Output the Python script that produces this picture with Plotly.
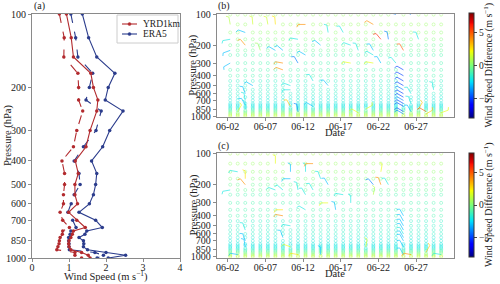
import numpy as np
import pandas as pd
import plotly.graph_objects as go
from plotly.colors import sample_colorscale

# ---------------- data: panel (a) mean wind speed profiles ----------------
levels = [100, 125, 150, 175, 200, 225, 250, 300, 350, 400, 450, 500, 550, 600,
          650, 700, 750, 775, 800, 825, 850, 875, 900, 925, 950, 975, 1000]
yrd_solid = [0.93, 1.06, 1.12, 1.59, 1.66, 1.78, 1.75, 1.57, 1.46, 1.17, 1.25, 1.16, 1.16, 1.23,
             0.99, 1.21, 1.44, 1.12, 1.09, 1.05, 1.00, 0.99, 1.00, 1.05, 1.34, 1.52, 1.57]
yrd_dash = [0.74, 0.87, 0.86, 1.24, 1.26, 1.26, 1.37, 1.21, 1.12, 0.81, 0.88, 0.88, 0.85, 0.85,
            0.76, 0.83, 1.01, 0.83, 0.82, 0.76, 0.74, 0.73, 0.70, 0.67, 1.16, 1.16, 1.34]
era_solid = [1.36, 1.53, 1.75, 2.24, 2.06, 1.98, 2.46, 2.10, 1.91, 1.61, 1.75, 1.72, 1.66, 1.55,
             1.27, 1.72, 1.90, 1.48, 1.43, 1.27, 1.39, 1.40, 1.39, 1.50, 2.00, 2.53, 2.06]
era_dash = [1.05, 1.18, 1.24, 1.64, 1.55, 1.46, 1.87, 1.73, 1.39, 1.14, 1.27, 1.30, 1.14, 1.06,
            0.97, 1.10, 1.19, 1.05, 1.03, 0.99, 0.99, 1.00, 1.00, 1.01, 1.70, 1.93, 1.76]
p_ticks = [100, 200, 300, 400, 500, 600, 700, 850, 1000]
ws_ticks = [0, 1, 2, 3, 4]
legend_names = ["YRD1km", "ERA5"]

# ---------------- data: panels (b)/(c) ----------------
days = list(range(2, 31))           # daily columns, 08 BJT
date_ticks = ["2024-06-02", "2024-06-07", "2024-06-12", "2024-06-17", "2024-06-22", "2024-06-27"]
date_labels = ["06-02", "06-07", "06-12", "06-17", "06-22", "06-27"]
cbar_ticks = [-5, 0, 5]
# representative calm-dot difference per level
dot_b = [0.5, 0.5, 0.3, 0, -0.5, -0.5, -1, -1, -1, -1, -1.5, -1.5, -1.5, -1.5,
         -1.8, -1.8, -2, -2, -2, -2, -1.5, -1, -0.5, 0, 0.5, 1, 1.5]
dot_c = [0.8, 0.5, 0.3, 0, -0.5, -0.5, -1, -1, -1, -1, -1.5, -1.5, -1.5, -1.5,
         -1.8, -1.8, -2, -2, -2, -2, -1.5, -1, -0.5, 0, 0.5, 1, 1.5]
# barbs: day, level, shaft angle (deg), speed difference
barb_b_day = [2, 2, 2, 2, 4, 4, 4, 4, 4, 4, 3, 5, 5, 6, 7, 8, 8, 9, 9, 9, 10, 10, 10, 11, 11, 12, 11,
              12, 13, 14, 13, 15, 15, 17, 18, 19, 18, 21, 22, 21, 23, 25, 24, 26, 27, 21, 22, 24,
              25, 25, 25, 25, 25, 25, 25, 25, 25, 25, 25, 25, 26, 26, 26, 27, 28, 28, 29, 20, 19, 30, 21]
barb_b_lev = [125, 175, 225, 300, 150, 200, 600, 700, 775, 850, 900, 500, 125, 225, 125, 125, 225, 225,
              300, 350, 500, 550, 800, 900, 300, 125, 175, 250, 450, 200, 800, 500, 150, 150, 200, 225,
              300, 125, 175, 225, 175, 225, 100, 100, 175, 250, 300, 300,
              350, 400, 450, 500, 550, 600, 650, 700, 750, 800, 900, 950, 600, 750, 900, 850, 900, 950,
              550, 850, 925, 925, 300]
barb_b_ang = [100, 190, 200, 210, 160, 130, 110, 100, 120, 90, 60, 150, 95, 110, 100, 95, 150, 140,
              170, 160, 160, 180, 120, 100, 120, 180, 170, 150, 120, 140, 150, 130, 100, 120, 160, 110,
              170, 150, 130, 120, 100, 120, 160, 150, 110, 150, 120, 130,
              150, 150, 150, 150, 150, 150, 150, 150, 150, 150, 150, 150, 120, 110, 120, 60, 150, 30,
              100, 30, 150, 20, 170]
barb_b_val = [1, -2, -3, -3, -3, 4, -3, -2, -3, -2, 2, -3, 1.5, 0.5, 1.5, 2.5, -3, -3, 4, 4, -2, -2, 3,
              -4, -4, 4, -2, -3, -2, -3, -3, -3, -2, -2, -2, -2, 2, 4, 6, -3, -4, 5, -4, -4, -2, -2,
              -3, -2, -5, -5, -5, -5, -4, -5, -5, -4, -5, -5, -5, -4, -2, -2, -3, 3, 5, 3, -2, 2, 2, 2, 2]
barb_c_day = [3, 4, 4, 2, 3, 4, 4, 4, 8, 8, 9, 9, 9, 10, 10, 10, 9, 10, 11, 12, 12, 11, 12, 13, 13,
              14, 14, 15, 15, 16, 22, 22, 21, 23, 17, 21, 25, 25, 25, 25, 25, 25, 25, 25, 25, 20, 26,
              28, 30, 18]
barb_c_lev = [150, 175, 200, 225, 950, 550, 700, 800, 125, 225, 225, 350, 400, 150, 175, 500, 650, 800,
              225, 150, 250, 950, 350, 125, 225, 950, 175, 200, 300, 350, 150, 200, 200, 200, 250, 250,
              400, 450, 500, 550, 600, 650, 700, 800, 950, 800, 950, 900, 950, 300]
barb_c_ang = [170, 90, 130, 190, 170, 110, 110, 100, 90, 160, 140, 180, 170, 90, 180, 170, 110, 160, 100,
              90, 120, 170, 150, 180, 120, 90, 110, 120, 180, 100, 80, 110, 130, 120, 170, 80,
              120, 120, 120, 120, 120, 120, 120, 120, 120, 80, 170, 60, 170, 90]
barb_c_val = [-2, 2.5, 4, -2, -3, -2, -3, -3, 2, -2, -2, 2.5, 4, -3, -3, -2, -3, 2, -2, -2, -2, 2.5, -2,
              4, -2, -3, -2, -3, 2, -3, 2, 4, -4, -2, -2, 1, -3, -3, -3, -3, -2, -3, -3, -3, -3, 2, 4,
              3, -2, -2]

# ---------------- styling ----------------
FONT = "Liberation Serif"
RED = "#B22A2E"
BLUE = "#2B3C8C"
AX = "#8a8a8a"
TXT = "#222222"
W, H = 500, 284
jet = [[0.0, "rgb(0,0,128)"], [0.11, "rgb(0,0,255)"], [0.125, "rgb(0,0,255)"],
       [0.34, "rgb(0,219,255)"], [0.35, "rgb(0,229,246)"], [0.5, "rgb(124,255,121)"],
       [0.64, "rgb(246,255,1)"], [0.65, "rgb(255,234,0)"], [0.89, "rgb(255,18,0)"],
       [0.91, "rgb(231,0,0)"], [1.0, "rgb(128,0,0)"]]
VMIN, VMAX = -8, 8


def jet_color(v):
    t = min(max((v - VMIN) / (VMAX - VMIN), 0), 1)
    return sample_colorscale(jet, [t])[0]


def px(x):
    return x / W


def py(y):
    return 1 - y / H


fig = go.Figure()

# ---- panel (a)
for vals, col, dash in [(yrd_dash, RED, "dash"), (era_dash, BLUE, "dash"),
                        (yrd_solid, RED, "solid"), (era_solid, BLUE, "solid")]:
    fig.add_trace(go.Scatter(x=vals, y=levels, mode="lines+markers", showlegend=False,
                             line=dict(color=col, width=1.1, dash=dash),
                             marker=dict(color=col, size=3.5), xaxis="x", yaxis="y"))

# ---- panels (b)/(c)
PX_DAY = 7.536
PX_DEC = 101.2


def col_time(d):
    return pd.Timestamp(2024, 6, 1, 8) + pd.Timedelta(days=d - 1)


def add_field(xa, ya, cax, dotvals, bday, blev, bang, bval):
    taken = set(zip(bday, blev))
    dx, dy, dv = [], [], []
    for d in days:
        for i, p in enumerate(levels):
            if (d, p) in taken:
                continue
            dx.append(col_time(d))
            dy.append(p)
            dv.append(dotvals[i])
    fig.add_trace(go.Scatter(x=dx, y=dy, mode="markers", showlegend=False, hoverinfo="skip",
                             marker=dict(symbol="circle-open", size=3, color=dv, coloraxis=cax,
                                         opacity=0.45, line=dict(width=0.9)),
                             xaxis=xa, yaxis=ya))
    L, T = 7.5, 3.0
    for d, p, ang, v in zip(bday, blev, bang, bval):
        t0 = col_time(d)
        a = np.deg2rad(ang)
        ex, ey = L * np.cos(a), L * np.sin(a)
        b = a + np.deg2rad(65)
        tx, ty = ex + T * np.cos(b), ey + T * np.sin(b)
        xs = [t0, t0 + pd.Timedelta(days=ex / PX_DAY), t0 + pd.Timedelta(days=tx / PX_DAY)]
        ys = [p, p * 10 ** (-ey / PX_DEC), p * 10 ** (-ty / PX_DEC)]
        fig.add_trace(go.Scatter(x=xs, y=ys, mode="lines", showlegend=False, hoverinfo="skip",
                                 line=dict(color=jet_color(v), width=0.9), opacity=0.7,
                                 xaxis=xa, yaxis=ya))


add_field("x2", "y2", "coloraxis", dot_b, barb_b_day, barb_b_lev, barb_b_ang, barb_b_val)
add_field("x3", "y3", "coloraxis2", dot_c, barb_c_day, barb_c_lev, barb_c_ang, barb_c_val)

tickfont = dict(family=FONT, size=10, color=TXT)
common = dict(showline=True, mirror=True, linecolor=AX, linewidth=1, ticks="outside",
              ticklen=3, tickcolor=AX, showgrid=False, zeroline=False, tickfont=tickfont,
              automargin=False)
xcommon = dict(common, ticklabelstandoff=-3)

date_range = ["2024-05-31 13:00", "2024-07-02 01:00"]
xd = [pd.Timestamp(t) for t in date_ticks]


def cbar(ytop, ybot):
    return dict(x=px(469), xanchor="left", xpad=0, ypad=0, y=py((ytop + ybot) / 2),
                yanchor="middle", len=(ybot - ytop) / H, thickness=5, outlinewidth=1,
                outlinecolor="#333", tickvals=cbar_ticks, ticks="outside", ticklen=3,
                tickfont=dict(family=FONT, size=9.5, color=TXT))


fig.update_layout(
    width=W, height=H, margin=dict(l=0, r=0, t=0, b=0),
    paper_bgcolor="white", plot_bgcolor="white",
    font=dict(family=FONT, size=10, color=TXT),
    xaxis=dict(domain=[px(32), px(180)], range=[0, 4], tickvals=ws_ticks, anchor="y", **xcommon),
    yaxis=dict(domain=[py(258), py(14)], type="log", range=[3, 2], tickvals=p_ticks,
               ticktext=[str(v) for v in p_ticks], anchor="x", **common),
    xaxis2=dict(domain=[px(216.7), px(454)], type="date", range=date_range, tickvals=xd,
                ticktext=date_labels, anchor="y2", **xcommon),
    yaxis2=dict(domain=[py(117), py(14.3)], type="log", range=[3.008, 1.997],
                tickvals=p_ticks, ticktext=[str(v) for v in p_ticks], anchor="x2", **common),
    xaxis3=dict(domain=[px(216.7), px(454)], type="date", range=date_range, tickvals=xd,
                ticktext=date_labels, anchor="y3", **xcommon),
    yaxis3=dict(domain=[py(257.7), py(153.3)], type="log", range=[3.008, 1.997],
                tickvals=p_ticks, ticktext=[str(v) for v in p_ticks], anchor="x3", **common),
    coloraxis=dict(colorscale=jet, cmin=VMIN, cmax=VMAX, colorbar=cbar(13, 118)),
    coloraxis2=dict(colorscale=jet, cmin=VMIN, cmax=VMAX, colorbar=cbar(153, 257)),
    showlegend=False,
)

# ---- text annotations (axis titles, panel labels)
def ann(text, x, y, angle=0, size=10.5, xanchor="center", yanchor="middle"):
    fig.add_annotation(text=text, x=px(x), y=py(y), xref="paper", yref="paper",
                       showarrow=False, textangle=angle, xanchor=xanchor, yanchor=yanchor,
                       font=dict(family=FONT, size=size, color=TXT))


ann("Wind Speed (m s<sup>−1</sup>)", 106, 275.5)
ann("Pressure (hPa)", 8, 136, angle=-90)
ann("Pressure (hPa)", 193, 65.7, angle=-90)
ann("Pressure (hPa)", 193, 205.5, angle=-90)
ann("Date", 335, 133)
ann("Date", 335, 273.5)
ann("Wind Speed Difference (m s<sup>−1</sup>)", 488, 65.5, angle=-90, size=10)
ann("Wind Speed Difference (m s<sup>−1</sup>)", 488, 205, angle=-90, size=10)
ann("(a)", 32, 6, size=10, xanchor="left")
ann("(b)", 216, 6, size=10, xanchor="left")
ann("(c)", 216, 146, size=10, xanchor="left")

# ---- manual legend box for panel (a)
fig.add_shape(type="rect", xref="paper", yref="paper", x0=px(117), x1=px(178),
              y0=py(43), y1=py(15), line=dict(color="#cccccc", width=1), fillcolor="white",
              layer="above")
for i, (name, col) in enumerate(zip(legend_names, [RED, BLUE])):
    yy = 24 + i * 10
    fig.add_shape(type="line", xref="paper", yref="paper", x0=px(122), x1=px(137),
                  y0=py(yy), y1=py(yy), line=dict(color=col, width=1.1), layer="above")
    fig.add_shape(type="circle", xref="paper", yref="paper", x0=px(128), x1=px(131),
                  y0=py(yy + 1.5), y1=py(yy - 1.5), line=dict(color=col, width=0.5),
                  fillcolor=col, layer="above")
    ann(name, 141, yy, size=9.5, xanchor="left")

fig.write_html("out.html", config={"displayModeBar": False},
               post_script="document.body.style.margin='0';document.body.style.overflow='hidden';")
